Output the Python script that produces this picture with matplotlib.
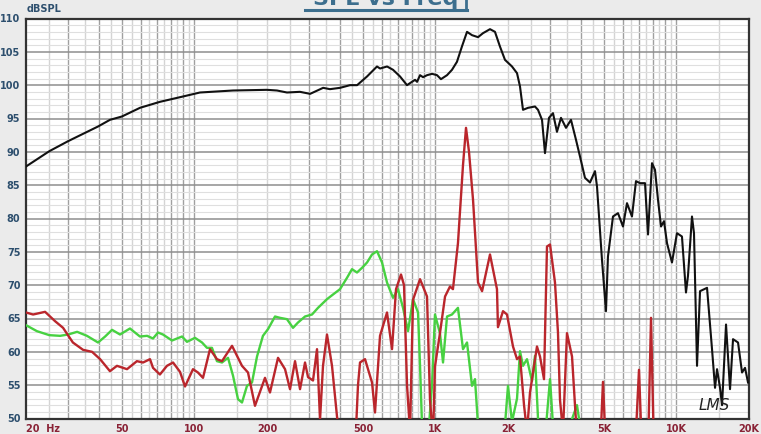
import numpy as np
import matplotlib.pyplot as plt
from matplotlib.lines import Line2D

# SPL (black), 2nd harmonic (red), 3rd harmonic (green)
spl_freq = [20, 25.0, 29.9, 39.8, 44.6, 50.0, 59.4, 71.9, 89.6, 105.4,
            144.6, 200, 220, 242, 274, 302, 342, 365, 402, 442,
            473, 520, 572, 589, 630, 667, 713, 762, 799, 823,
            839, 863, 888, 923, 968, 1015, 1054, 1117, 1171, 1228,
            1288, 1352, 1418, 1502, 1575, 1684, 1766, 1852, 1943, 2078,
            2180, 2243, 2308, 2421, 2588, 2664, 2768, 2848, 2959, 3074,
            3193, 3318, 3481, 3651, 3830, 3979, 4173, 4378, 4592, 4681,
            4909, 5100, 5198, 5453, 5720, 6000, 6234, 6538, 6793, 7059,
            7405, 7620, 7917, 8147, 8384, 8628, 8879, 9137, 9582, 10050,
            10541, 10953, 11165, 11600, 11825, 12171, 12527, 13393, 14047, 14456,
            14736, 15163, 15458, 16059, 16684, 17170, 18010, 18713, 19256, 19812]
spl_db = [87.8, 90.1, 91.6, 93.8, 94.8, 95.3, 96.6, 97.5, 98.3, 98.9,
          99.2, 99.3, 99.2, 98.9, 99.0, 98.7, 99.6, 99.4, 99.6, 100.0,
          100.0, 101.3, 102.8, 102.5, 102.8, 102.3, 101.3, 100.0, 100.5, 100.8,
          100.5, 101.5, 101.2, 101.5, 101.7, 101.5, 100.9, 101.5, 102.3, 103.5,
          105.8, 108.0, 107.5, 107.2, 107.8, 108.4, 108.0, 105.8, 103.8, 102.8,
          101.8, 99.8, 96.3, 96.6, 96.8, 96.3, 94.8, 89.8, 95.1, 95.8,
          93.0, 95.1, 93.6, 94.8, 91.8, 89.3, 86.1, 85.4, 87.1, 84.8,
          73.8, 66.1, 74.3, 80.3, 80.8, 78.8, 82.3, 80.3, 85.6, 85.3,
          85.3, 77.6, 88.3, 87.3, 82.8, 78.8, 79.6, 76.3, 73.4, 77.8,
          77.3, 68.9, 71.4, 80.3, 77.8, 57.9, 69.1, 69.6, 60.4, 54.6,
          57.4, 54.6, 52.0, 64.1, 54.4, 61.9, 61.4, 56.9, 57.6, 55.4]

h2_freq = [20, 21.4, 24.0, 26.4, 28.5, 31.3, 34.5, 37.6, 40.6, 44.6,
           47.7, 52.5, 57.7, 61.2, 65.4, 67.3, 71.9, 76.9, 81.5, 87.1,
           91.4, 98.6, 103.4, 108.5, 116.0, 124.0, 130.1, 143.2, 157.5, 166.8,
           178.3, 196.2, 205.8, 222.2, 237.6, 249.2, 261.4, 274.2, 287.6, 296.0,
           310.4, 322.5, 331.9, 341.5, 354.8, 372.2, 390.4, 409.4, 463.6, 477.1,
           486.4, 510.2, 545.5, 561.3, 588.8, 629.5, 660.4, 686.1, 719.6, 740.6,
           762.1, 784.3, 807.1, 862.9, 922.6, 949.3, 976.9, 995.4, 1044, 1096,
           1149, 1182, 1240, 1301, 1339, 1378, 1432, 1502, 1561, 1684,
           1800, 1817, 1907, 1981, 2098, 2180, 2243, 2331, 2398, 2468,
           2638, 2715, 2821, 2903, 2988, 3133, 3224, 3287, 3382, 3514,
           3687, 3793, 3904, 4816, 4956, 5100, 6730, 6992, 7194, 7620,
           7842, 8068, 8628]
h2_db = [65.9, 65.6, 66.0, 64.6, 63.6, 61.4, 60.3, 60.0, 58.9, 57.1,
         57.9, 57.4, 58.6, 58.4, 58.9, 57.6, 56.6, 57.9, 58.4, 57.0,
         54.8, 57.4, 56.9, 56.1, 60.4, 58.9, 58.6, 60.9, 57.9, 56.9,
         51.9, 56.1, 53.9, 59.1, 57.4, 54.4, 58.6, 54.4, 58.4, 56.2,
         55.7, 60.4, 49.8, 57.9, 62.6, 57.9, 50.3, 45.0, 45.0, 55.0,
         58.4, 58.9, 55.4, 50.9, 62.4, 65.9, 60.4, 69.4, 71.6, 70.0,
         55.0, 48.0, 67.8, 70.9, 68.3, 52.8, 47.0, 57.8, 62.8, 68.3,
         69.8, 69.4, 76.3, 88.0, 93.6, 90.0, 82.8, 70.4, 69.1, 74.6,
         69.4, 63.7, 66.1, 65.6, 60.8, 58.9, 59.3, 52.0, 48.0, 53.9,
         60.8, 59.3, 55.9, 75.8, 76.1, 70.4, 62.9, 52.8, 48.0, 62.8,
         59.3, 52.0, 45.0, 45.0, 55.5, 45.0, 45.0, 57.3, 45.0, 45.0,
         65.1, 45.0, 40.0]

h3_freq = [20, 22.2, 25, 27.7, 29.9, 32.6, 35.8, 39.8, 42.6, 45.5,
           49.1, 54.0, 59.4, 63.6, 67.3, 70.6, 74.0, 80.7, 88.8, 93.1,
           100.5, 107.5, 112.7, 118.2, 124.0, 130.1, 137.8, 144.6, 151.6, 157.5,
           165.2, 173.3, 181.8, 192.4, 201.9, 215.9, 226.5, 242.1, 256.4, 269.0,
           287.6, 307.5, 325.6, 354.8, 375.8, 401.7, 429.5, 450.5, 472.6, 495.8,
           520.1, 545.5, 572.2, 600.2, 629.5, 666.7, 699.3, 733.5, 769.4, 807.1,
           846.6, 862.9, 879.6, 922.6, 967.7, 995.4, 1044, 1075, 1117, 1171,
           1240, 1301, 1352, 1418, 1459, 1502, 1684, 1943, 2000, 2078,
           2180, 2243, 2308, 2398, 2515, 2588, 2664, 2848, 2988, 3074,
           3448, 3866, 3979, 4816, 20000]
h3_db = [64.0, 63.1, 62.5, 62.4, 62.6, 63.0, 62.4, 61.4, 62.3, 63.3,
         62.6, 63.5, 62.3, 62.4, 62.0, 62.9, 62.6, 61.7, 62.3, 61.5,
         62.1, 61.4, 60.6, 60.6, 58.6, 58.4, 59.1, 56.4, 52.9, 52.4,
         54.9, 55.4, 59.3, 62.4, 63.4, 65.3, 65.1, 64.9, 63.6, 64.4,
         65.3, 65.6, 66.6, 67.9, 68.6, 69.4, 71.1, 72.4, 71.9, 72.6,
         73.4, 74.6, 75.1, 73.4, 70.4, 68.1, 69.4, 66.6, 63.1, 67.9,
         65.9, 58.0, 49.0, 45.0, 55.0, 65.6, 62.8, 58.4, 65.3, 65.6,
         66.6, 60.4, 61.4, 54.9, 55.9, 49.0, 45.0, 49.0, 54.9, 49.5,
         53.0, 60.1, 57.9, 58.9, 55.6, 59.4, 50.0, 47.0, 55.9, 49.0,
         47.0, 52.0, 49.0, 45.0, 45.0]

x_ticks = [20, 50, 100, 200, 500, 1000, 2000, 5000, 10000, 20000]
x_labels = ['20  Hz', '50', '100', '200', '500', '1K', '2K', '5K', '10K', '20K']
y_ticks = list(range(50, 111, 5))

W, H = 761, 434
fig = plt.figure(figsize=(W / 100, H / 100), dpi=100, facecolor='#ebebeb')
ax = fig.add_axes([26 / W, 1 - 418.5 / H, 723 / W, 400 / H])
ax.set_facecolor('white')
ax.set_xscale('log')
ax.set_xlim(20, 20000)
ax.set_ylim(50, 110)

# grid: whole multiples darker, half steps lighter
for dec in [10, 100, 1000, 10000]:
    for m in np.arange(1, 10, 0.5):
        f = dec * m
        if f <= 20 or f >= 20000:
            continue
        dark = (m == int(m)) and m != 2
        ax.axvline(f, color='#a0a0a0' if dark else '#d4d4d4', lw=1.0, zorder=0)
for db in range(51, 110):
    if db % 5 == 0:
        ax.axhline(db, color='#8e8e8e', lw=1.1, zorder=0)
    else:
        ax.axhline(db, color='#dfdfdf', lw=0.8, zorder=0)

ax.plot(h3_freq, h3_db, color='#47d141', lw=1.7, zorder=3)
ax.plot(h2_freq, h2_db, color='#ba262c', lw=1.7, zorder=4)
ax.plot(spl_freq, spl_db, color='#111111', lw=1.5, zorder=5)

for s in ax.spines.values():
    s.set_color('#333333')
    s.set_linewidth(1.6)

ax.minorticks_off()
ax.set_xticks(x_ticks)
ax.set_xticklabels(x_labels, fontsize=7, fontweight='bold', color='#8a2236')
ax.set_yticks(y_ticks)
ax.set_yticklabels([str(v) for v in y_ticks], fontsize=7, fontweight='bold', color='#2d4f6e')
ax.tick_params(length=0, pad=4)
ax.get_xticklabels()[0].set_horizontalalignment('left')

fig.text(27 / W, 1 - 12 / H, 'dBSPL', fontsize=7, fontweight='bold', color='#2d4f6e')

# title sits partly above the top edge
fig.text(386 / W, 1 - 5 / H, 'SPL vs Freq', fontsize=16, fontweight='bold',
         color='#3d6f8e', ha='center', va='baseline')
fig.add_artist(Line2D([305 / W, 467 / W], [1 - 10 / H, 1 - 10 / H],
                      color='#3d6f8e', lw=2.2))
fig.add_artist(Line2D([466 / W, 466 / W], [1 - 10 / H, 1.0],
                      color='#3d6f8e', lw=2.0))

ax.text(12300, 51.3, 'LMS', fontsize=11, fontstyle='italic', color='#222222',
        fontfamily='DejaVu Sans', fontweight='light', zorder=6)

fig.savefig('out.png', dpi=100, facecolor=fig.get_facecolor())
